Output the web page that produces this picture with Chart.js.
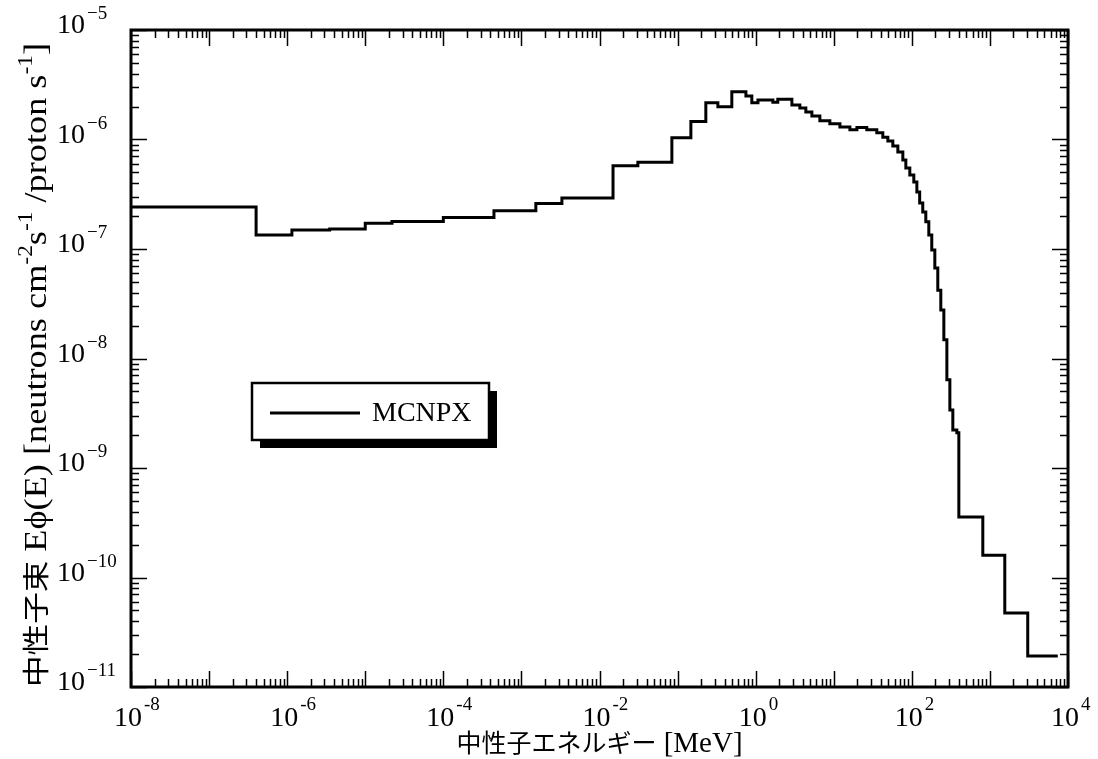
<!DOCTYPE html>
<html>
<head>
<meta charset="utf-8">
<script src="https://cdn.jsdelivr.net/npm/chart.js@4.4.1/dist/chart.umd.min.js"></script>
<style>
  body { margin: 0; background: #fff; }
  #wrap { width: 1098px; height: 759px; }
</style>
</head>
<body>
<div id="wrap"><canvas id="spectrum" width="1098" height="759"></canvas></div>
<script>
// ビン境界 [MeV] とビンごとの中性子束
const binEdges = [1e-8, 4.0e-7, 1.15e-6, 3.5e-6, 1.0e-5, 2.2e-5, 1.0e-4, 4.45e-4, 1.53e-3, 3.3e-3,
  1.49e-2, 3.1e-2, 8.45e-2, 0.148, 0.23, 0.328, 0.495, 0.75, 0.893, 1.07,
  1.66, 1.92, 2.91, 3.68, 4.39, 5.25, 6.64, 8.91, 12.0, 16.1,
  19.8, 26.5, 35.6, 42.5, 49.3, 57.1, 66.2, 76.7, 83.8, 94.2,
  106, 116, 126, 138, 151, 165, 180, 197, 215, 235,
  257, 281, 307, 335, 377, 400, 811, 1550, 3050, 7400];
const fluxMCNPX = [2.42e-7, 1.34e-7, 1.49e-7, 1.52e-7, 1.72e-7, 1.78e-7, 1.94e-7, 2.24e-7, 2.61e-7, 2.92e-7,
  5.76e-7, 6.19e-7, 1.04e-6, 1.46e-6, 2.17e-6, 1.99e-6, 2.73e-6, 2.50e-6, 2.17e-6, 2.30e-6,
  2.19e-6, 2.33e-6, 2.07e-6, 1.94e-6, 1.78e-6, 1.64e-6, 1.48e-6, 1.39e-6, 1.30e-6, 1.23e-6,
  1.29e-6, 1.23e-6, 1.15e-6, 1.05e-6, 9.7e-7, 8.7e-7, 7.7e-7, 6.5e-7, 5.5e-7, 4.74e-7,
  4.09e-7, 3.32e-7, 2.63e-7, 2.18e-7, 1.77e-7, 1.34e-7, 9.8e-8, 6.7e-8, 4.2e-8, 2.77e-8,
  1.48e-8, 6.4e-9, 3.39e-9, 2.22e-9, 2.1e-9, 3.57e-10, 1.60e-10, 4.74e-11, 1.92e-11];

// 目盛りの指数 (10^n)
const xDecades = [-8, -7, -6, -5, -4, -3, -2, -1, 0, 1, 2, 3, 4];
const xLabelDecades = [-8, -6, -4, -2, 0, 2, 4];
const yDecades = [-11, -10, -9, -8, -7, -6, -5];

const xTitle = ["中性子エネルギー", " [MeV]"];
const seriesName = "MCNPX";

const SERIF = '"Liberation Serif", "Noto Sans CJK JP", serif';
const CJK = '"Noto Sans CJK JP", sans-serif';

// ヒストグラム用の点列 (下端 + 最終上端)
const points = fluxMCNPX.map((v, i) => ({ x: binEdges[i], y: v }));
points.push({ x: binEdges[binEdges.length - 1], y: fluxMCNPX[fluxMCNPX.length - 1] });

const logTicks = (decades) => {
  const ticks = [];
  decades.forEach((d, i) => {
    ticks.push({ value: Math.pow(10, d), major: true, exp: d });
    if (i < decades.length - 1) {
      for (let m = 2; m <= 9; m++) ticks.push({ value: m * Math.pow(10, d), major: false });
    }
  });
  return ticks;
};

// 種類ごとにフォントを変えて文字列を描く: j=和文, t=欧文, s=上付き
const drawRuns = (ctx, runs, x, y, sizes) => {
  const fontFor = (k) => (k === "j" ? `${sizes.j}px ${CJK}` : `${sizes[k]}px ${SERIF}`);
  const widths = runs.map(([t, k]) => { ctx.font = fontFor(k); return ctx.measureText(t).width; });
  const total = widths.reduce((a, b) => a + b, 0);
  let cx = x - total / 2;
  runs.forEach(([t, k], i) => {
    ctx.font = fontFor(k);
    ctx.fillText(t, cx, k === "s" ? y - sizes.t * 0.45 : y);
    cx += widths[i];
  });
};

const framePlugin = {
  id: "frame",
  afterDraw(chart) {
    const ctx = chart.ctx;
    const { left, right, top, bottom } = chart.chartArea;
    const xs = chart.scales.x;
    const ys = chart.scales.y;
    ctx.save();
    ctx.strokeStyle = "#000";
    ctx.fillStyle = "#000";

    // 枠
    ctx.lineWidth = 3;
    ctx.strokeRect(left, top, right - left, bottom - top);

    // 内向きの目盛り
    ctx.lineWidth = 1.5;
    ctx.beginPath();
    xs.ticks.forEach((t) => {
      const px = Math.round(xs.getPixelForValue(t.value)) + 0.5;
      const len = t.major ? 16 : 8;
      ctx.moveTo(px, bottom); ctx.lineTo(px, bottom - len);
      ctx.moveTo(px, top); ctx.lineTo(px, top + len);
    });
    ys.ticks.forEach((t) => {
      const py = Math.round(ys.getPixelForValue(t.value)) + 0.5;
      const len = t.major ? 16 : 8;
      ctx.moveTo(left, py); ctx.lineTo(left + len, py);
      ctx.moveTo(right, py); ctx.lineTo(right - len, py);
    });
    ctx.stroke();

    // 目盛りラベル
    ctx.textBaseline = "alphabetic";
    ctx.textAlign = "left";
    xs.ticks.filter((t) => t.major && xLabelDecades.includes(t.exp)).forEach((t) => {
      const px = xs.getPixelForValue(t.value);
      ctx.font = `28px ${SERIF}`;
      const w = ctx.measureText("10").width;
      ctx.fillText("10", px - w / 2 - 3, bottom + 39);
      ctx.font = `19px ${SERIF}`;
      ctx.fillText(String(t.exp), px + w / 2 - 1, bottom + 23);
    });
    ys.ticks.filter((t) => t.major).forEach((t) => {
      const py = ys.getPixelForValue(t.value);
      ctx.font = `28px ${SERIF}`;
      const w = ctx.measureText("10").width;
      ctx.fillText("10", 57, py + 3);
      ctx.font = `19px ${SERIF}`;
      ctx.fillText(String(t.exp).replace("-", "\u2212"), 57 + w + 2, py - 11);
    });

    // 軸タイトル
    drawRuns(ctx, [[xTitle[0], "j"], [xTitle[1], "t"]], (left + right) / 2, 752, { j: 25, t: 29, s: 19 });
    ctx.save();
    ctx.translate(46, 365);
    ctx.rotate(-Math.PI / 2);
    ctx.scale(1.17, 1); // 原図は縦方向に少し引き伸ばされている
    drawRuns(ctx, [["中性子束", "j"], [" E\u03D5(E) [neutrons cm", "t"], ["-2", "s"], ["s", "t"], ["-1", "s"],
      [" /proton s", "t"], ["-1", "s"], ["]", "t"]], 0, 0, { j: 27, t: 31, s: 20 });
    ctx.restore();

    // 凡例 (影つきの箱)
    const bx = 252, by = 383, bw = 237, bh = 57, sh = 8;
    ctx.fillRect(bx + sh, by + sh, bw, bh);
    ctx.fillStyle = "#fff";
    ctx.fillRect(bx, by, bw, bh);
    ctx.fillStyle = "#000";
    ctx.lineWidth = 2.5;
    ctx.strokeRect(bx, by, bw, bh);
    const ly = by + 30;
    ctx.lineWidth = 3;
    ctx.beginPath();
    ctx.moveTo(bx + 18, ly); ctx.lineTo(bx + 108, ly);
    ctx.stroke();
    ctx.font = `28px ${SERIF}`;
    ctx.textBaseline = "middle";
    ctx.fillText(chart.data.datasets[0].label, bx + 120, ly + 1);
    ctx.restore();
  },
};

new Chart(document.getElementById("spectrum"), {
  type: "line",
  data: {
    datasets: [
      {
        label: seriesName,
        data: points,
        stepped: "before",
        borderColor: "#000",
        borderWidth: 3,
        pointRadius: 0,
        fill: false,
      },
    ],
  },
  options: {
    responsive: false,
    animation: false,
    events: [],
    layout: { padding: { left: 131, right: 30, top: 30, bottom: 72 } },
    scales: {
      x: {
        type: "logarithmic",
        min: 1e-8,
        max: 1e4,
        afterBuildTicks: (scale) => { scale.ticks = logTicks(xDecades); },
        ticks: { display: false },
        grid: { display: false, drawTicks: false },
        border: { display: false },
      },
      y: {
        type: "logarithmic",
        min: 1e-11,
        max: 1e-5,
        afterBuildTicks: (scale) => { scale.ticks = logTicks(yDecades); },
        ticks: { display: false },
        grid: { display: false, drawTicks: false },
        border: { display: false },
      },
    },
    plugins: {
      legend: { display: false },
      tooltip: { enabled: false },
    },
  },
  plugins: [framePlugin],
});
</script>
</body>
</html>
